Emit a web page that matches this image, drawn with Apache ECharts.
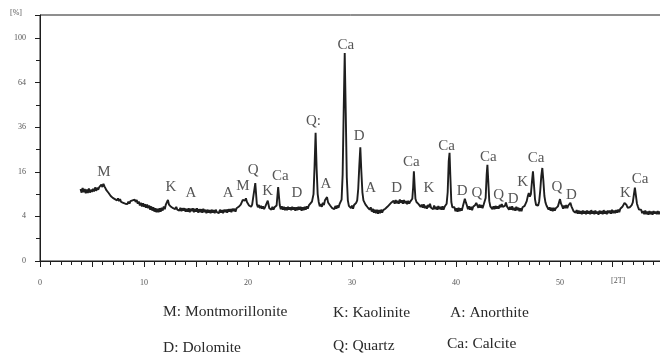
<!DOCTYPE html>
<html>
<head>
<meta charset="utf-8">
<script src="https://cdn.jsdelivr.net/npm/echarts@6/dist/echarts.min.js"></script>
<style>
  html, body { margin: 0; padding: 0; background: #fff; }
  #chart { width: 660px; height: 356px; }
</style>
</head>
<body>
<div id="chart"></div>
<script>
// XRD scan, [2theta (deg), intensity (%)]
const scan = [
  [3.9,10.4],[4.0,9.4],[4.1,10.7],[4.2,9.5],[4.3,10.4],[4.4,9.2],[4.5,10.3],[4.6,9.3],[4.7,10.6],[4.8,9.4],
  [4.9,10.2],[5.0,9.6],[5.1,10.5],[5.2,9.7],[5.3,10.9],[5.4,9.9],[5.5,10.8],[5.6,10.2],[5.7,11.0],[5.8,10.6],
  [5.9,11.7],[6.0,11.0],[6.1,12.0],[6.2,11.2],[6.3,11.1],[6.4,10.0],[6.5,10.3],[6.6,9.3],[6.7,9.3],[6.8,8.5],
  [6.9,8.7],[7.0,8.0],[7.1,8.3],[7.2,7.7],[7.3,8.1],[7.4,7.4],[7.5,7.9],[7.6,7.2],[7.7,7.7],[7.8,7.0],
  [7.9,7.4],[8.0,6.8],[8.1,7.2],[8.2,6.6],[8.3,7.0],[8.4,6.5],[8.5,7.1],[8.6,6.6],[8.7,7.2],[8.8,6.8],
  [8.9,7.4],[9.0,7.0],[9.1,7.6],[9.2,7.0],[9.3,7.5],[9.4,6.6],[9.5,7.1],[9.6,6.2],[9.7,6.8],[9.8,6.0],
  [9.9,6.7],[10.0,5.9],[10.1,6.5],[10.2,5.7],[10.3,6.4],[10.4,5.6],[10.5,6.2],[10.6,5.3],[10.7,6.0],[10.8,5.1],
  [10.9,5.8],[11.0,4.9],[11.1,5.6],[11.2,4.8],[11.3,5.5],[11.4,4.8],[11.5,5.6],[11.6,4.9],[11.7,5.7],[11.8,5.1],
  [11.9,6.0],[12.0,5.4],[12.1,6.4],[12.2,6.7],[12.3,7.5],[12.4,6.4],[12.5,6.3],[12.6,5.9],[12.7,6.1],[12.8,5.6],
  [12.9,6.0],[13.0,5.4],[13.1,5.9],[13.2,5.3],[13.3,5.7],[13.4,5.1],[13.5,5.7],[13.6,5.0],[13.7,5.6],[13.8,5.1],
  [13.9,5.6],[14.0,4.9],[14.1,5.5],[14.2,4.9],[14.3,5.6],[14.4,4.8],[14.5,5.5],[14.6,5.0],[14.7,5.6],[14.8,4.8],
  [14.9,5.5],[15.0,4.9],[15.1,5.6],[15.2,4.7],[15.3,5.4],[15.4,4.8],[15.5,5.4],[15.6,4.7],[15.7,5.5],[15.8,4.8],
  [15.9,5.3],[16.0,4.6],[16.1,5.3],[16.2,4.7],[16.3,5.2],[16.4,4.6],[16.5,5.3],[16.6,4.7],[16.7,5.2],[16.8,4.6],
  [16.9,5.3],[17.0,4.8],[17.1,5.2],[17.2,4.6],[17.3,5.3],[17.4,4.7],[17.5,5.2],[17.6,4.6],[17.7,5.3],[17.8,4.8],
  [17.9,5.3],[18.0,4.7],[18.1,5.4],[18.2,4.9],[18.3,5.4],[18.4,4.8],[18.5,5.5],[18.6,5.0],[18.7,5.5],[18.8,4.9],
  [18.9,5.6],[19.0,5.2],[19.1,5.9],[19.2,5.6],[19.3,6.4],[19.4,6.6],[19.5,7.5],[19.6,7.9],[19.7,7.3],[19.8,7.9],
  [19.9,7.0],[20.0,6.8],[20.1,6.2],[20.2,6.6],[20.3,5.9],[20.4,6.4],[20.55,6.6],[20.7,12.2],[20.85,6.5],[20.95,5.8],
  [21.05,6.3],[21.15,5.6],[21.25,6.1],[21.35,5.5],[21.45,6.0],[21.55,5.4],[21.65,5.9],[21.75,5.9],[21.9,7.3],[22.05,5.6],
  [22.15,6.0],[22.25,5.3],[22.35,5.9],[22.45,5.3],[22.55,5.8],[22.65,5.4],[22.75,6.2],[22.9,11.0],[23.05,6.3],[23.15,5.4],
  [23.25,6.0],[23.35,5.3],[23.45,5.9],[23.55,5.2],[23.65,5.8],[23.75,5.2],[23.85,5.9],[23.95,5.3],[24.05,5.8],[24.15,5.2],
  [24.25,5.9],[24.35,5.3],[24.45,5.8],[24.55,5.1],[24.65,5.8],[24.75,5.2],[24.85,5.9],[24.95,5.3],[25.05,5.9],[25.15,5.1],
  [25.25,5.8],[25.35,5.2],[25.45,5.9],[25.55,5.3],[25.65,6.0],[25.75,5.5],[25.85,6.2],[26.0,6.0],[26.15,7.1],[26.3,9.0],
  [26.4,18],[26.5,33],[26.6,17],[26.7,9.0],[26.8,7.0],[26.9,6.0],[27.0,6.5],[27.1,5.9],[27.2,6.8],[27.3,6.3],
  [27.4,7.4],[27.5,7.0],[27.6,8.2],[27.7,6.9],[27.8,7.3],[27.9,6.2],[28.0,6.4],[28.1,5.6],[28.2,6.0],[28.3,5.4],
  [28.4,6.1],[28.5,5.5],[28.6,6.2],[28.7,5.7],[28.8,6.5],[28.9,6.6],[29.0,7.6],[29.1,15],[29.2,45],[29.3,87],
  [29.4,44],[29.5,14],[29.6,7.4],[29.7,6.1],[29.8,6.4],[29.9,5.6],[30.0,6.2],[30.1,5.5],[30.2,6.3],[30.3,5.9],
  [30.4,6.8],[30.5,7.4],[30.6,10.5],[30.7,18],[30.8,26],[30.9,16],[31.0,9.5],[31.1,7.4],[31.2,7.2],[31.3,6.4],
  [31.4,6.8],[31.5,5.8],[31.6,6.2],[31.7,5.3],[31.8,5.8],[31.9,4.9],[32.0,5.5],[32.1,4.7],[32.2,5.3],[32.3,4.6],
  [32.4,5.3],[32.5,4.5],[32.6,5.2],[32.7,4.6],[32.8,5.3],[32.9,4.7],[33.0,5.2],[33.1,4.8],[33.2,5.5],[33.3,5.2],
  [33.4,5.9],[33.5,5.6],[33.6,6.4],[33.7,6.1],[33.8,6.9],[33.9,6.5],[34.0,7.3],[34.1,6.6],[34.2,7.5],[34.3,6.7],
  [34.4,7.3],[34.5,6.6],[34.6,7.6],[34.7,6.8],[34.8,7.4],[34.9,6.6],[35.0,7.5],[35.1,6.7],[35.2,7.2],[35.3,6.5],
  [35.4,7.3],[35.5,6.6],[35.6,7.1],[35.7,6.8],[35.8,7.8],[35.88,11],[35.95,16.2],[36.03,11],[36.1,7.8],[36.2,7.0],
  [36.3,7.4],[36.4,6.5],[36.5,6.7],[36.6,5.9],[36.7,6.4],[36.8,5.7],[36.9,6.5],[37.0,5.6],[37.1,6.1],[37.2,5.5],
  [37.3,6.3],[37.4,5.8],[37.5,6.6],[37.6,5.7],[37.7,6.1],[37.8,5.4],[37.9,6.2],[38.0,5.4],[38.1,5.9],[38.2,5.3],
  [38.3,6.1],[38.4,5.4],[38.5,5.9],[38.6,5.3],[38.7,6.0],[38.8,5.3],[38.9,5.9],[39.0,5.7],[39.1,6.6],[39.2,9.5],
  [39.3,20],[39.38,23.5],[39.45,15],[39.55,7.0],[39.65,5.8],[39.75,5.4],[39.85,5.8],[39.95,5.0],[40.05,5.6],[40.15,4.9],
  [40.25,5.7],[40.35,5.0],[40.45,5.6],[40.55,5.1],[40.65,5.9],[40.75,6.3],[40.85,7.8],[40.95,6.9],[41.05,6.2],[41.15,5.4],
  [41.25,6.0],[41.35,5.3],[41.45,5.9],[41.55,5.2],[41.65,5.9],[41.75,5.6],[41.85,6.3],[41.95,6.8],[42.05,6.2],[42.15,5.7],
  [42.25,6.4],[42.35,5.7],[42.45,6.3],[42.55,5.6],[42.65,6.3],[42.75,6.2],[42.85,8.0],[42.95,15],[43.02,18.6],[43.1,13],
  [43.2,7.2],[43.3,6.0],[43.4,6.2],[43.5,5.4],[43.6,6.0],[43.7,5.4],[43.8,6.1],[43.9,5.5],[44.0,6.0],[44.1,5.5],
  [44.2,6.3],[44.3,5.8],[44.4,6.5],[44.5,5.9],[44.6,6.3],[44.7,6.1],[44.8,6.9],[44.9,6.0],[45.0,6.1],[45.1,5.3],
  [45.2,5.9],[45.3,5.3],[45.4,6.0],[45.5,5.2],[45.6,5.7],[45.7,5.1],[45.8,5.9],[45.9,5.2],[46.0,5.7],[46.1,5.0],
  [46.2,5.6],[46.3,5.0],[46.4,5.8],[46.5,5.4],[46.6,6.1],[46.7,6.3],[46.8,7.2],[46.9,8.4],[47.0,9.3],[47.1,8.3],
  [47.2,9.0],[47.3,12.5],[47.4,16.2],[47.5,11.5],[47.6,7.6],[47.7,6.3],[47.8,5.9],[47.9,6.2],[48.0,7.2],[48.1,10],
  [48.2,14.5],[48.3,17.4],[48.4,13],[48.5,8.5],[48.6,6.9],[48.7,6.2],[48.8,5.9],[48.9,5.3],[49.0,5.8],[49.1,5.1],
  [49.2,5.7],[49.3,5.0],[49.4,5.7],[49.5,5.1],[49.6,5.6],[49.7,5.3],[49.8,6.0],[49.9,6.4],[50.0,7.7],[50.1,6.6],
  [50.2,6.1],[50.3,5.5],[50.4,6.2],[50.5,5.6],[50.6,6.3],[50.7,5.6],[50.8,6.2],[50.9,6.0],[51.0,6.8],[51.1,6.0],
  [51.2,5.7],[51.3,5.0],[51.4,5.4],[51.5,4.7],[51.6,5.2],[51.7,4.5],[51.8,5.1],[51.9,4.5],[52.0,5.0],[52.1,4.4],
  [52.2,5.1],[52.3,4.5],[52.4,5.0],[52.5,4.4],[52.6,5.1],[52.7,4.5],[52.8,5.0],[52.9,4.4],[53.0,5.2],[53.1,4.5],
  [53.2,5.0],[53.3,4.4],[53.4,5.1],[53.5,4.5],[53.6,4.9],[53.7,4.3],[53.8,5.1],[53.9,4.5],[54.0,5.0],[54.1,4.4],
  [54.2,5.2],[54.3,4.5],[54.4,5.0],[54.5,4.4],[54.6,5.1],[54.7,4.6],[54.8,5.1],[54.9,4.5],[55.0,5.3],[55.1,4.6],
  [55.2,5.1],[55.3,4.6],[55.4,5.2],[55.5,4.7],[55.6,5.3],[55.7,4.8],[55.8,5.5],[55.9,5.2],[56.0,5.9],[56.1,6.0],
  [56.2,6.8],[56.3,7.2],[56.4,6.3],[56.5,5.7],[56.6,5.4],[56.7,5.8],[56.8,5.5],[56.9,6.3],[57.0,6.9],[57.1,8.8],
  [57.2,10.8],[57.3,8.6],[57.4,6.6],[57.5,5.9],[57.6,5.3],[57.7,5.0],[57.8,5.3],[57.9,4.6],[58.0,5.0],[58.1,4.4],
  [58.2,5.1],[58.3,4.4],[58.4,4.9],[58.5,4.3],[58.6,5.0],[58.7,4.4],[58.8,4.9],[58.9,4.3],[59.0,5.0],[59.1,4.5],
  [59.2,4.9],[59.3,4.4],[59.4,5.0],[59.5,4.4],[59.6,4.9],[59.7,4.4],[59.8,5.0],[59.9,4.5],[60.0,4.8]
];

// phase tags over the peaks: letter, 2theta, height (%) where the letter sits
const tagText  = ['M','K','A','A','M','Q','K','Ca','D','Q:','A','Ca','D','A','D','Ca','K','Ca','D','Q','Ca','Q','D','K','Ca','Q','D','K','Ca'];
const tagTheta = [6.15,12.6,14.5,18.1,19.5,20.5,21.9,23.1,24.7,26.3,27.5,29.4,30.7,31.8,34.3,35.7,37.4,39.1,40.6,42.0,43.1,44.1,45.5,46.4,47.7,49.7,51.1,56.3,57.7];
const tagHeight = [15.9,11.0,9.3,9.3,11.3,16.6,9.9,14.5,9.3,39.4,11.9,93.8,31.4,10.7,10.7,19.7,10.7,26.6,9.9,9.3,21.7,8.8,7.7,12.5,21.3,11.0,8.8,9.3,13.5];

const yTicks = [0, 4, 16, 36, 64, 100];
const phaseKey = ['M: Montmorillonite', 'K: Kaolinite', 'A: Anorthite', 'D: Dolomite', 'Q: Quartz', 'Ca: Calcite'];

const ink = '#1e1e1e';
const serif = '"Liberation Serif", "DejaVu Serif", serif';

// the intensity axis is a square-root scale (0,4,16,36,64,100 evenly spaced)
const sq = v => Math.sqrt(v);

const chart = echarts.init(document.getElementById('chart'), null, { renderer: 'canvas' });

chart.setOption({
  animation: false,
  backgroundColor: '#fff',
  grid: {
    left: 40, top: 15, width: 624, height: 246,
    containLabel: false, outerBoundsMode: 'none',
    show: true, borderColor: ink, borderWidth: 1, backgroundColor: 'transparent'
  },
  xAxis: {
    type: 'value', min: 0, max: 60, interval: 5,
    axisLine: { lineStyle: { color: ink, width: 1 } },
    axisTick: { length: 6, lineStyle: { color: ink } },
    minorTick: { show: true, splitNumber: 5, length: 4, lineStyle: { color: ink } },
    splitLine: { show: false },
    axisLabel: {
      color: '#555', fontFamily: serif, fontSize: 8, margin: 18,
      formatter: v => (v % 10 === 0 ? String(v) : '')
    }
  },
  yAxis: {
    type: 'value', min: 0, max: 11.03, interval: 2,
    axisLine: { show: true, lineStyle: { color: ink, width: 1 } },
    axisTick: { show: true, length: 5, lineStyle: { color: ink } },
    minorTick: { show: true, splitNumber: 2, length: 4, lineStyle: { color: ink } },
    splitLine: { show: false },
    axisLabel: {
      color: '#555', fontFamily: serif, fontSize: 8, margin: 14,
      formatter: v => { const t = Math.round(v * v); return yTicks.includes(t) ? String(t) : ''; }
    }
  },
  series: [
    {
      type: 'line',
      data: scan.map(p => [p[0], sq(p[1])]),
      showSymbol: false,
      lineStyle: { color: ink, width: 1.9 },
      z: 3
    },
    {
      type: 'scatter',
      symbolSize: 0,
      data: tagText.map((t, i) => ({ name: t, value: [tagTheta[i], sq(tagHeight[i])] })),
      label: {
        show: true, position: 'inside', formatter: p => p.name,
        color: '#2a2a2a', fontFamily: serif, fontSize: 15
      },
      z: 4
    }
  ],
  graphic: [
    { type: 'text', left: 10, top: 9, style: { text: '[%]', font: '8px ' + serif, fill: '#555' } },
    { type: 'text', left: 611, top: 277, style: { text: '[2T]', font: '8px ' + serif, fill: '#555' } },
    { type: 'text', left: 163, top: 304, style: { text: phaseKey[0], font: '15.5px ' + serif, fill: '#2a2a2a' } },
    { type: 'text', left: 333, top: 305, style: { text: phaseKey[1], font: '15.5px ' + serif, fill: '#2a2a2a' } },
    { type: 'text', left: 450, top: 305, style: { text: phaseKey[2], font: '15.5px ' + serif, fill: '#2a2a2a' } },
    { type: 'text', left: 163, top: 340, style: { text: phaseKey[3], font: '15.5px ' + serif, fill: '#2a2a2a' } },
    { type: 'text', left: 333, top: 338, style: { text: phaseKey[4], font: '15.5px ' + serif, fill: '#2a2a2a' } },
    { type: 'text', left: 447, top: 336, style: { text: phaseKey[5], font: '15.5px ' + serif, fill: '#2a2a2a' } }
  ]
});
</script>
</body>
</html>
